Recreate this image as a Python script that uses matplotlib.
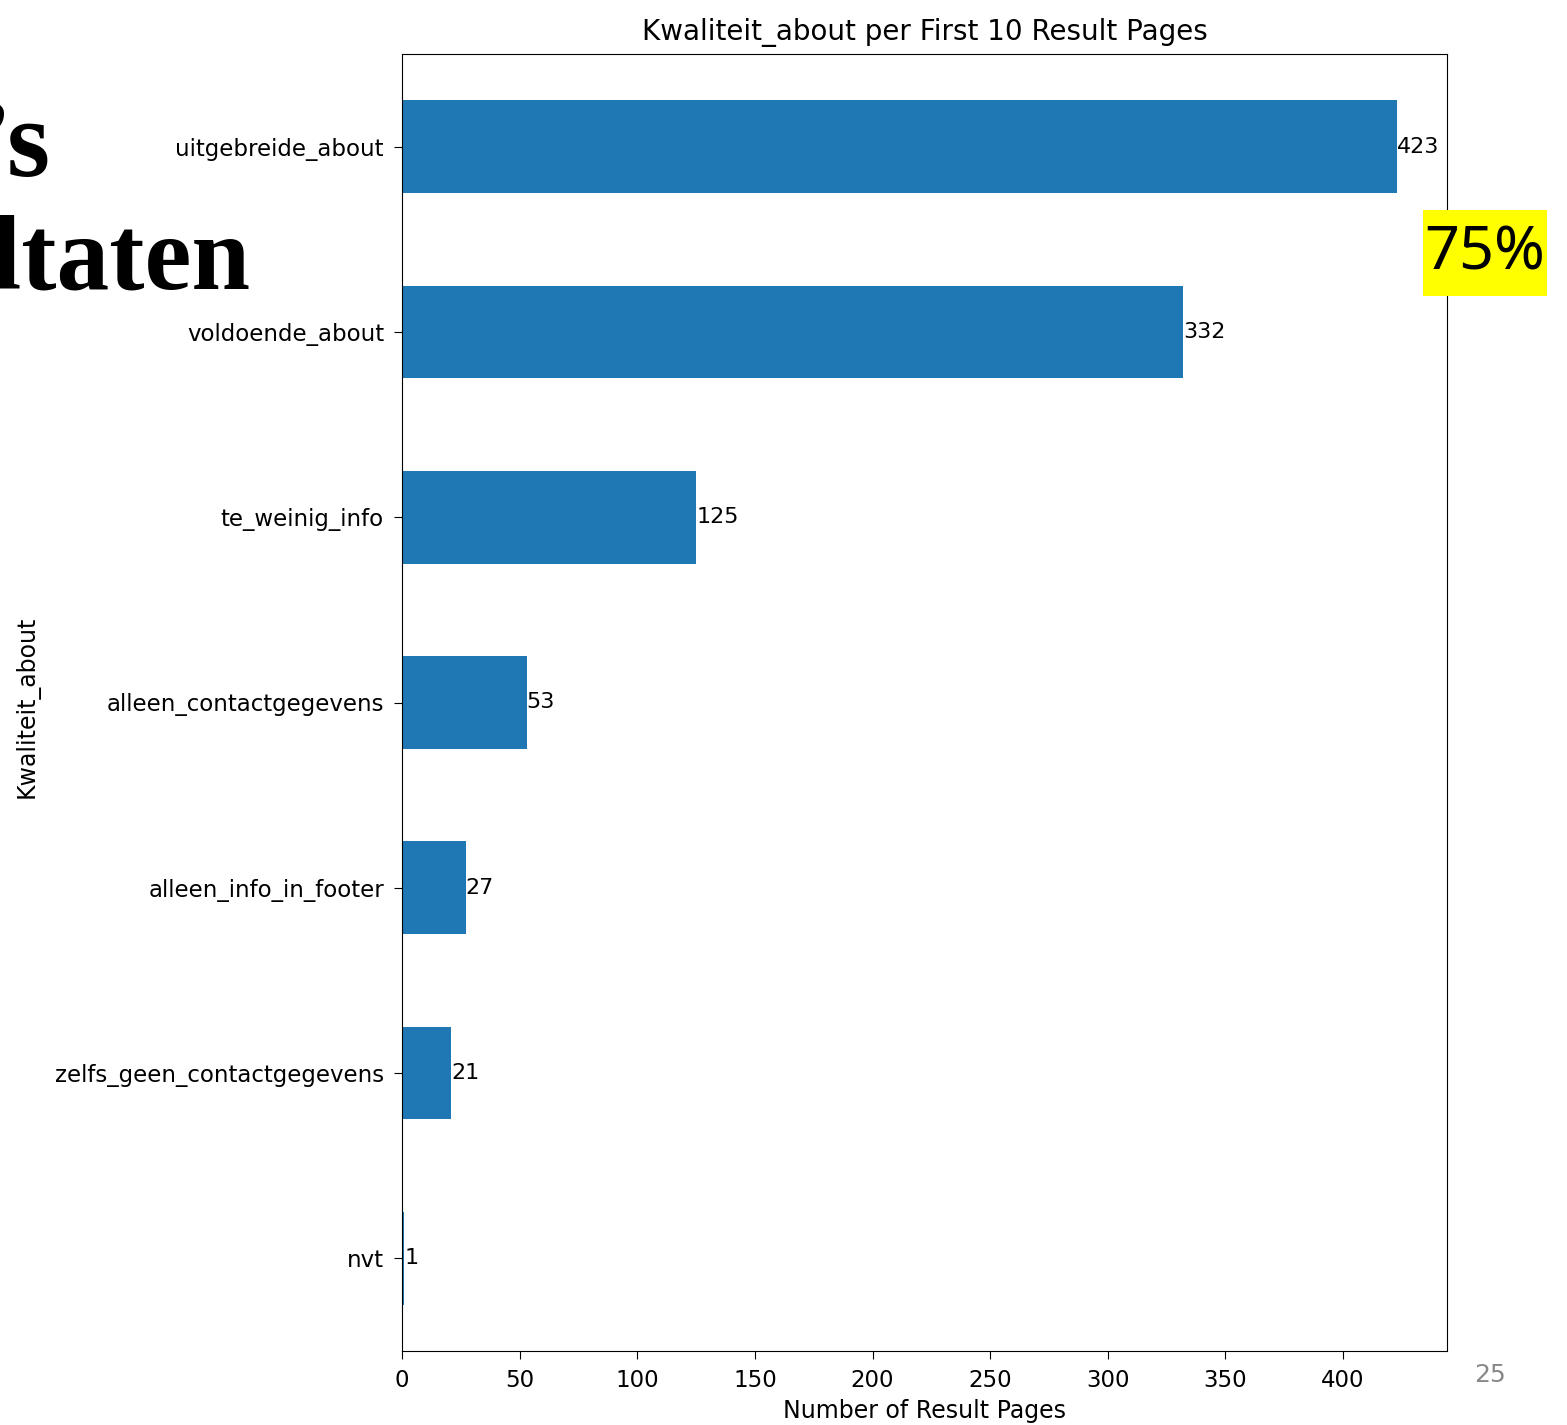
import matplotlib.pyplot as plt
from matplotlib.patches import Rectangle

# data (bottom to top, as pandas barh draws it)
categories = ['nvt', 'zelfs_geen_contactgegevens', 'alleen_info_in_footer',
              'alleen_contactgegevens', 'te_weinig_info', 'voldoende_about',
              'uitgebreide_about']
counts = [1, 21, 27, 53, 125, 332, 423]
x_ticks = [0, 50, 100, 150, 200, 250, 300, 350, 400]

W, H = 1567, 1425
fig = plt.figure(figsize=(W / 100, H / 100), dpi=100)
ax = fig.add_axes([402 / W, 1 - 1351 / H, 1045 / W, 1297 / H])

bars = ax.barh(range(len(categories)), counts, height=0.5, color='#1f77b4')
ax.bar_label(bars, labels=[str(c) for c in counts], fontsize=16)

ax.set_yticks(range(len(categories)))
ax.set_yticklabels(categories)
ax.set_xticks(x_ticks)
ax.tick_params(axis='both', labelsize=16.5, length=6, pad=7)
ax.set_ylim(-0.5, len(categories) - 0.5)
ax.set_title('Kwaliteit_about per First 10 Result Pages', fontsize=20, pad=10)
ax.set_xlabel('Number of Result Pages', fontsize=17, labelpad=5)
ax.set_ylabel('Kwaliteit_about', fontsize=17)
ax.yaxis.set_label_coords(-0.347, 0.497)

# slide leftovers around the chart (cut off by the screenshot, as in the original)
fig.text(50 / W, 1 - 176 / H, '\u2019s', fontsize=80, fontweight='bold',
         family='Liberation Serif', ha='right', va='baseline')
fig.text(250 / W, 1 - 288 / H, 'ltaten', fontsize=76, fontweight='bold',
         family='Liberation Serif', ha='right', va='baseline')
fig.add_artist(Rectangle((1423 / W, 1 - 296 / H), 124 / W, 86 / H,
                         transform=fig.transFigure, facecolor='#ffff00',
                         edgecolor='none', zorder=9))
fig.text(1485 / W, 1 - 254 / H, '75%', fontsize=44, family='Noto Sans',
         ha='center', va='center', zorder=10)
fig.text(1490 / W, 1 - 1375 / H, '25', fontsize=18, color='#888888',
         ha='center', va='center')

fig.savefig('out.png', dpi=100)
